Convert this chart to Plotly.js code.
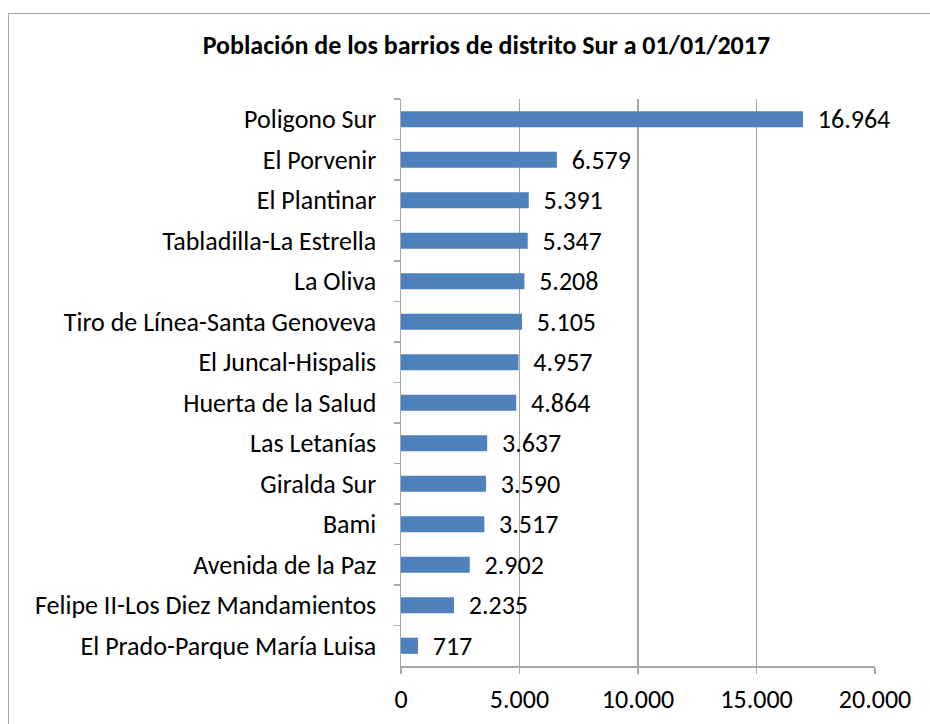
<!DOCTYPE html>
<html><head><meta charset="utf-8">
<script src="https://cdn.plot.ly/plotly-3.0.1.min.js"></script>
<style>
html,body{margin:0;padding:0;background:#fff;}
#wrap{position:relative;width:930px;height:724px;}
#chart{position:absolute;left:0;top:0;width:930px;height:724px;}
#frame{position:absolute;left:8px;top:13px;width:940px;height:740px;border-left:1.5px solid #a6a6a6;border-top:1.5px solid #a6a6a6;pointer-events:none;}
</style></head>
<body><div id="wrap"><div id="chart"></div><div id="frame"></div></div>
<script>
const barrios = ["Poligono Sur","El Porvenir","El Plantinar","Tabladilla-La Estrella","La Oliva","Tiro de Línea-Santa Genoveva","El Juncal-Hispalis","Huerta de la Salud","Las Letanías","Giralda Sur","Bami","Avenida de la Paz","Felipe II-Los Diez Mandamientos","El Prado-Parque María Luisa"];
const poblacion = [16964,6579,5391,5347,5208,5105,4957,4864,3637,3590,3517,2902,2235,717];
const xTicks = [0,5000,10000,15000,20000];
const xTickText = ["0","5.000","10.000","15.000","20.000"];
const titulo = "Población de los barrios de distrito Sur a 01/01/2017";

const FONT = "Calibri, Carlito, 'Liberation Sans Narrow', 'Noto Sans', sans-serif";
const FS = 26;
const trace = {
  type: "bar", orientation: "h",
  x: poblacion, y: barrios,
  marker: {color: "#4F81BD", line: {width: 0}},
  text: poblacion.map(v => "  " + v.toLocaleString("de-DE")),
  textposition: "outside",
  constraintext: "none",
  textfont: {color: "#000", size: FS, family: FONT},
  cliponaxis: false,
  hoverinfo: "none"
};
const layout = {
  width: 930, height: 724,
  margin: {l: 401, r: 55, t: 99, b: 58},
  paper_bgcolor: "#fff", plot_bgcolor: "#fff",
  showlegend: false,
  bargap: 0.6,
  font: {family: FONT, color: "#000", size: FS},
  title: {text: "<b>" + titulo + "</b>", font: {size: FS, family: FONT, color: "#000"},
          xref: "container", x: 0.523, xanchor: "center", yref: "container", y: 1 - 45/724, yanchor: "middle"},
  xaxis: {range: [0, 20000], tickvals: xTicks, ticktext: xTickText, showgrid: true, gridcolor: "#a6a6a6", gridwidth: 1.5,
          zeroline: false, showline: true, linecolor: "#a6a6a6", linewidth: 1.5, ticks: "outside", ticklen: 6, tickcolor: "#a6a6a6", tickwidth: 1.5,
          tickfont: {size: FS, family: FONT, color: "#000"}, ticklabelstandoff: 3, fixedrange: true},
  yaxis: {type: "category", autorange: "reversed", showgrid: false, zeroline: false, showline: true, linecolor: "#a6a6a6", linewidth: 1.5,
          ticks: "outside", ticklen: 6, tickcolor: "#a6a6a6", tickwidth: 1.5, tickson: "boundaries",
          tickfont: {size: FS, family: FONT, color: "#000"}, ticklabelstandoff: 18, fixedrange: true}
};
Plotly.newPlot("chart", [trace], layout, {displayModeBar: false, staticPlot: true});
</script></body></html>
